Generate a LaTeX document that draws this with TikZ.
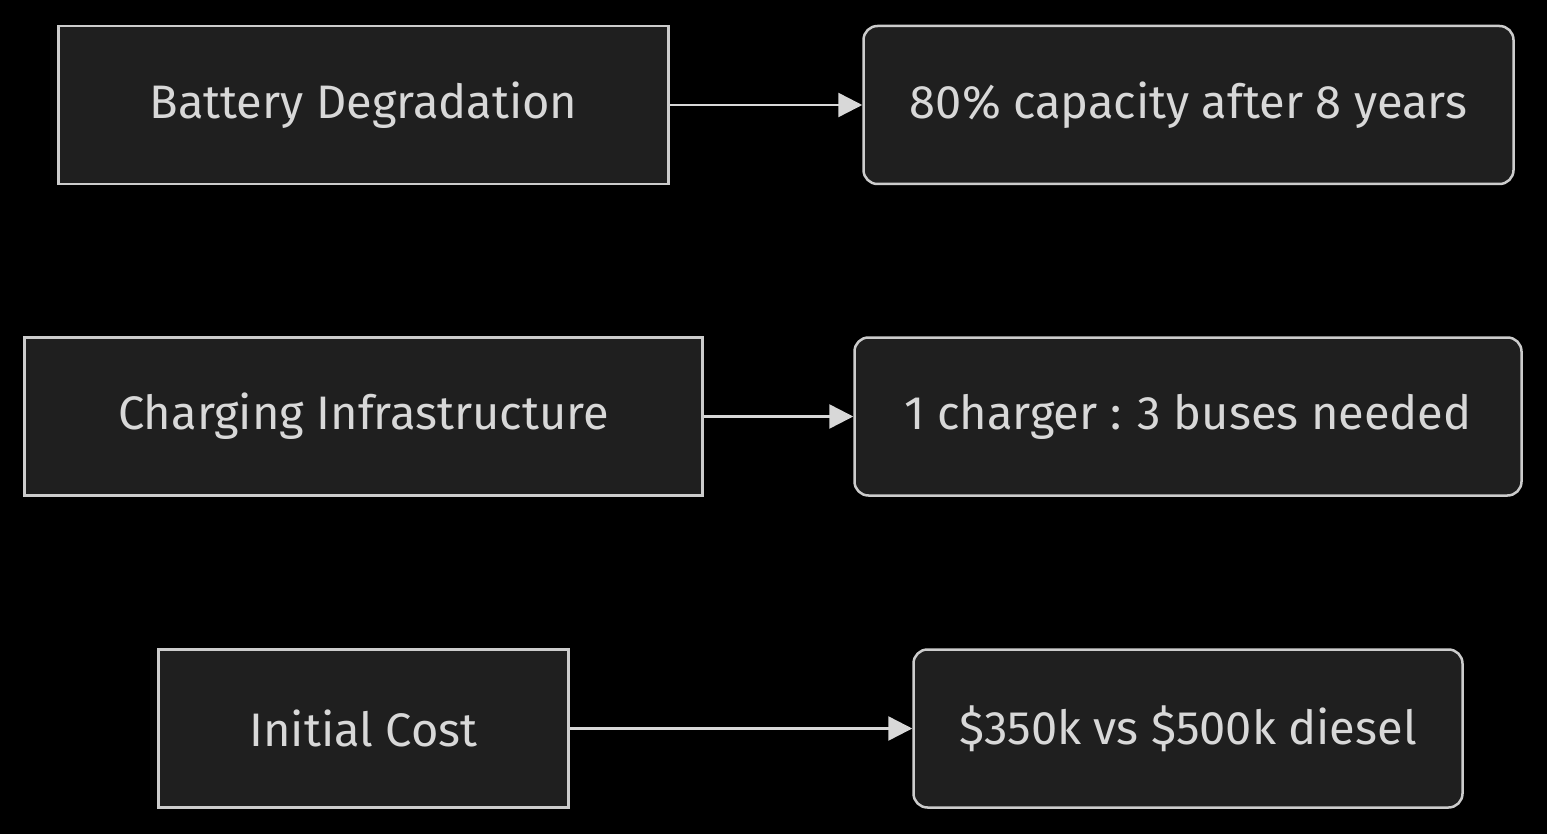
\documentclass[tikz,border=0pt]{standalone}
\usepackage{fontspec}
\setmainfont{Fira Sans}
\usetikzlibrary{arrows.meta, positioning}
\definecolor{canvas}{HTML}{000000}
\definecolor{boxfill}{HTML}{1F1F1F}
\definecolor{boxline}{HTML}{CCCCCC}
\definecolor{boxtext}{HTML}{D8D8D8}
\definecolor{wire}{HTML}{D8D8D8}

\begin{document}
\begin{tikzpicture}[
        x=1pt, y=-1pt,
        box/.style={rectangle, fill=boxfill, draw=boxline, line width=2.5pt,
                    text=boxtext, font=\fontsize{47}{54}\selectfont,
                    minimum height=158pt, inner sep=0pt},
        cause/.style={box},
        effect/.style={box, rounded corners=14pt},
        link/.style={draw=wire, line width=2.5pt,
                     -{Triangle[length=24pt, width=24pt]}},
      ]
        \fill[canvas] (0,0) rectangle (1547,834);
        \useasboundingbox (0,0) rectangle (1547,834);

        \node[cause, minimum width=610pt] (battery) at (363.5,105) {Battery Degradation};
        \node[cause, minimum width=678pt] (charging) at (363.5,416.5) {Charging Infrastructure};
        \node[cause, minimum width=410pt] (cost) at (363.5,728.5) {Initial Cost};

        \node[effect, minimum width=650pt] (capacity) at (1188.5,105) {80\% capacity after 8 years};
        \node[effect, minimum width=667pt] (ratio) at (1188,416.5) {1 charger : 3 buses needed};
        \node[effect, minimum width=549pt] (price) at (1188,728.5) {\$350k vs \$500k diesel};

        \draw[link] (battery) -- (capacity);
        \draw[link] (charging) -- (ratio);
        \draw[link] (cost) -- (price);
      \end{tikzpicture}
\end{document}
